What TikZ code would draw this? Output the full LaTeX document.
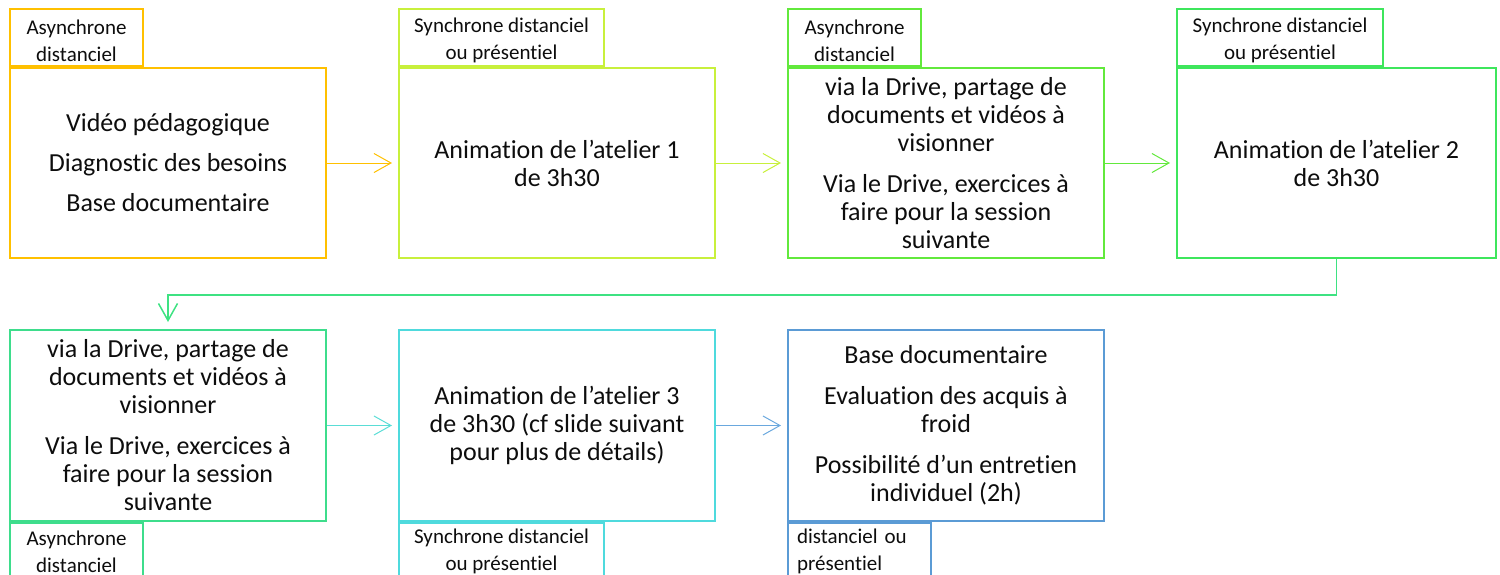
\documentclass[tikz,border=0pt]{standalone}
\usepackage{fontspec}
\setmainfont{Carlito}[Ligatures=NoCommon]
\usetikzlibrary{arrows.meta}
\definecolor{cA}{HTML}{FFC000}
\definecolor{cB}{HTML}{C8F03C}
\definecolor{cC}{HTML}{62E93C}
\definecolor{cD}{HTML}{3EE65C}
\definecolor{cE}{HTML}{3EDD8C}
\definecolor{cF}{HTML}{4FDADD}
\definecolor{cG}{HTML}{5B9BD5}
\definecolor{cDE}{HTML}{3EE282}
\definecolor{cEF}{HTML}{5ADDD6}
\definecolor{cFG}{HTML}{6AA8DE}
\newcommand{\tabstrut}{\rule{0pt}{21pt}}
\begin{document}
\begin{tikzpicture}[x=1pt,y=-1pt,
  mainbox/.style={draw=#1, line width=2pt, minimum width=316pt, minimum height=190pt,
    anchor=north west, align=center, inner sep=0pt, text=black!95,
    font=\fontsize{26}{28}\selectfont},
  tabbox/.style={draw=#1, fill=white, line width=2pt, minimum height=57pt, inner sep=0pt,
    align=center, text=black!95, font=\fontsize{21}{27}\selectfont},
  conn/.style={draw=#1, line width=1pt, -{Straight Barb[length=17pt,width=19pt]}, shorten >=6pt}]
\useasboundingbox (0,0) rectangle (1500,574);

% top row
\node[mainbox=cA] (m1) at (9,67) {Vidéo pédagogique\\[12pt]Diagnostic des besoins\\[12pt]Base documentaire};
\node[mainbox=cB] (m2) at (398,67) {Animation de l’atelier 1\\de 3h30};
\node[mainbox=cC] (m3) at (787,67) {via la Drive, partage de\\documents et vidéos à\\visionner\\[13pt]Via le Drive, exercices à\\faire pour la session\\suivante};
\node[mainbox=cD, minimum width=319pt] (m4) at (1176,67) {Animation de l’atelier 2\\de 3h30};

\node[tabbox=cA, minimum width=133pt, anchor=south west] (t1) at (m1.north west) {\tabstrut Asynchrone\\distanciel};
\node[tabbox=cB, minimum width=205pt, anchor=south west] (t2) at (m2.north west) {\tabstrut Synchrone distanciel\\ou présentiel};
\node[tabbox=cC, minimum width=133pt, anchor=south west] (t3) at (m3.north west) {\tabstrut Asynchrone\\distanciel};
\node[tabbox=cD, minimum width=206pt, anchor=south west] (t4) at (m4.north west) {\tabstrut Synchrone distanciel\\ou présentiel};

% bottom row
\node[mainbox=cE, minimum height=191pt] (m5) at (9,329) {via la Drive, partage de\\documents et vidéos à\\visionner\\[13pt]Via le Drive, exercices à\\faire pour la session\\suivante};
\node[mainbox=cF, minimum height=191pt] (m6) at (398,329) {Animation de l’atelier 3\\de 3h30 (cf slide suivant\\pour plus de détails)};
\node[mainbox=cG, minimum height=191pt] (m7) at (787,329) {Base documentaire\\[13pt]Evaluation des acquis à\\froid\\[13pt]Possibilité d’un entretien\\individuel (2h)};

\node[tabbox=cE, minimum width=133pt, anchor=north west] (t5) at (m5.south west) {Asynchrone\\distanciel};
\node[tabbox=cF, minimum width=205pt, anchor=north west] (t6) at (m6.south west) {Synchrone distanciel\\ou présentiel};
\node[tabbox=cG, minimum width=143pt, text width=125pt, align=left, inner xsep=9pt, anchor=north west] (t7) at (m7.south west) {distanciel ou\\présentiel};

% connectors
\draw[conn=cA] (m1.east) -- (m2.west);
\draw[conn=cB] (m2.east) -- (m3.west);
\draw[conn=cC] (m3.east) -- (m4.west);
\draw[conn=cDE, line width=1.5pt, shorten >=7pt] (m4.south) -- ++(0,36) -| (m5.north);
\draw[conn=cEF] (m5.east) -- (m6.west);
\draw[conn=cFG] (m6.east) -- (m7.west);
\end{tikzpicture}
\end{document}
